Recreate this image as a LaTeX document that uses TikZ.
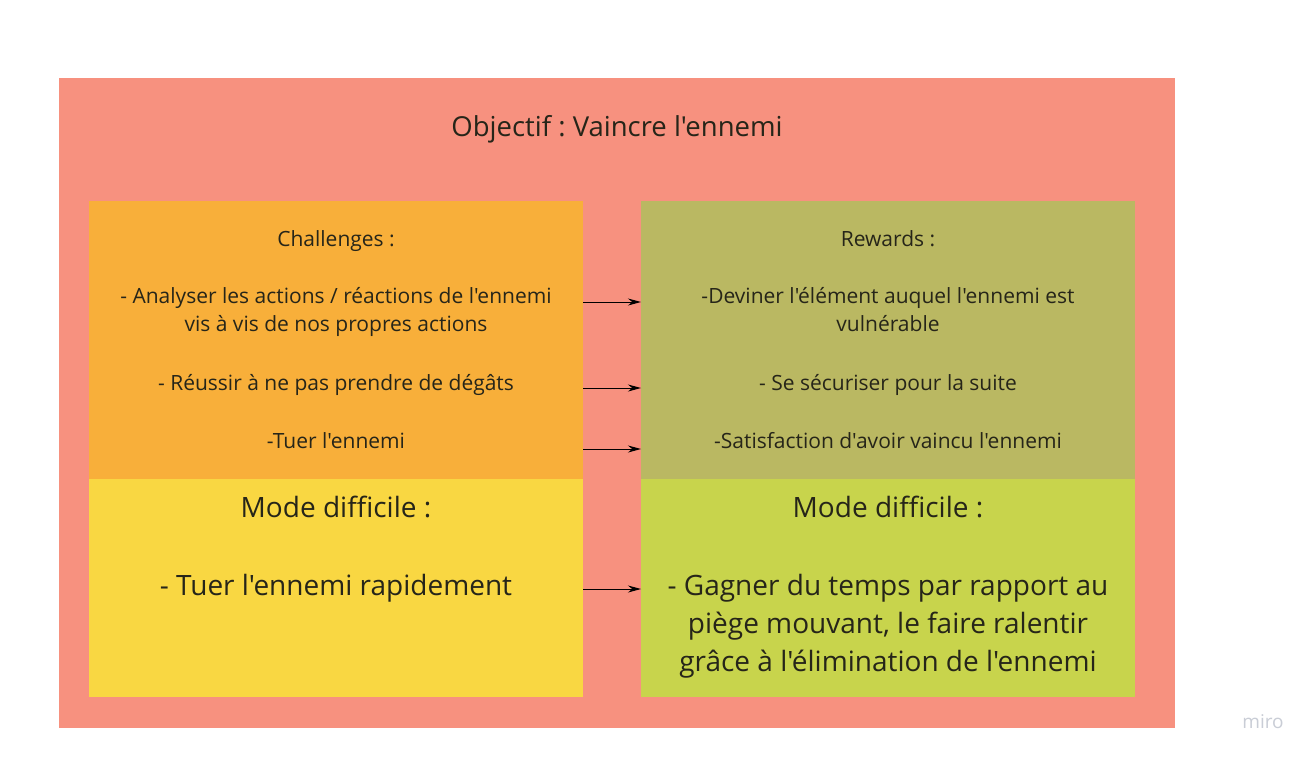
\documentclass[tikz,border=0pt]{standalone}
\usepackage{fontspec}
\setmainfont{Open Sans}[Ligatures=TeXOff]
\usetikzlibrary{arrows.meta}
\frenchspacing
\definecolor{salmon}{HTML}{F7917F}
\definecolor{chalor}{HTML}{F8AF3A}
\definecolor{rewol}{HTML}{BAB862}
\definecolor{modey}{HTML}{F9D742}
\definecolor{model}{HTML}{C8D44C}
\definecolor{txt}{HTML}{262519}
\definecolor{logo}{HTML}{C9CDD6}
\tikzset{
  area/.style={fill=#1, draw=none, anchor=north west, inner sep=0pt, outer sep=0pt},
  small/.style={text=txt, anchor=base, inner sep=0pt, font=\fontsize{21}{28}\selectfont},
  big/.style={text=txt, anchor=base, inner sep=0pt, font=\fontsize{28}{38}\selectfont},
  link/.style={-{Stealth[length=13pt,width=7pt]}, line width=1pt, black},
}
\begin{document}
\begin{tikzpicture}[x=1pt,y=-1pt]
\useasboundingbox (0,0) rectangle (1314,760);
\fill[white] (0,0) rectangle (1314,760);
% frames
\node[area=salmon, minimum width=1116pt, minimum height=650pt] (outer) at (59,78) {};
\node[area=chalor, minimum width=494pt, minimum height=278pt] (chal) at (89,201) {};
\node[area=modey, minimum width=494pt, minimum height=218pt] (hardl) at (89,479) {};
\node[area=rewol, minimum width=494pt, minimum height=278pt] (rew) at (641,201) {};
\node[area=model, minimum width=494pt, minimum height=218pt] (hardr) at (641,479) {};
% title
\node[text=txt, anchor=base, inner sep=0pt, font=\fontsize{27.5}{32}\selectfont] (title) at (617,136) {Objectif : Vaincre l'ennemi};
% challenges
\node[small] (ch0) at (336,246.5) {Challenges :};
\node[small] (ch1) at (336,303) {- Analyser les actions / réactions de l'ennemi};
\node[small] (ch1b) at (336,331.5) {vis à vis de nos propres actions};
\node[small] (ch2) at (336,390) {- Réussir à ne pas prendre de dégâts};
\node[small] (ch3) at (336,448) {-Tuer l'ennemi};
% rewards
\node[small] (rw0) at (888,246.5) {Rewards :};
\node[small] (rw1) at (888,303) {-Deviner l'élément auquel l'ennemi est};
\node[small] (rw1b) at (888,331.5) {vulnérable};
\node[small] (rw2) at (888,390) {- Se sécuriser pour la suite};
\node[small] (rw3) at (888,448) {-Satisfaction d'avoir vaincu l'ennemi};
% hard mode left
\node[big] (hl0) at (336,517) {Mode difficile :};
\node[big] (hl1) at (336,595) {- Tuer l'ennemi rapidement};
% hard mode right
\node[big] (hr0) at (888,517) {Mode difficile :};
\node[big] (hr1) at (888,595) {- Gagner du temps par rapport au};
\node[big] (hr2) at (888,633.5) {piège mouvant, le faire ralentir};
\node[big] (hr3) at (888,671.5) {grâce à l'élimination de l'ennemi};
% arrow anchors
\coordinate (y1) at (0,302);
\coordinate (y2) at (0,388);
\coordinate (y3) at (0,449);
\coordinate (y4) at (0,589);
\draw[link] (chal.east |- y1) -- (rew.west |- y1);
\draw[link] (chal.east |- y2) -- (rew.west |- y2);
\draw[link] (chal.east |- y3) -- (rew.west |- y3);
\draw[link] (hardl.east |- y4) -- (hardr.west |- y4);
% logo
\node[text=logo, anchor=base, inner sep=0pt, font=\fontsize{19}{22}\selectfont] (miro) at (1263,728) {miro};
\end{tikzpicture}
\end{document}
